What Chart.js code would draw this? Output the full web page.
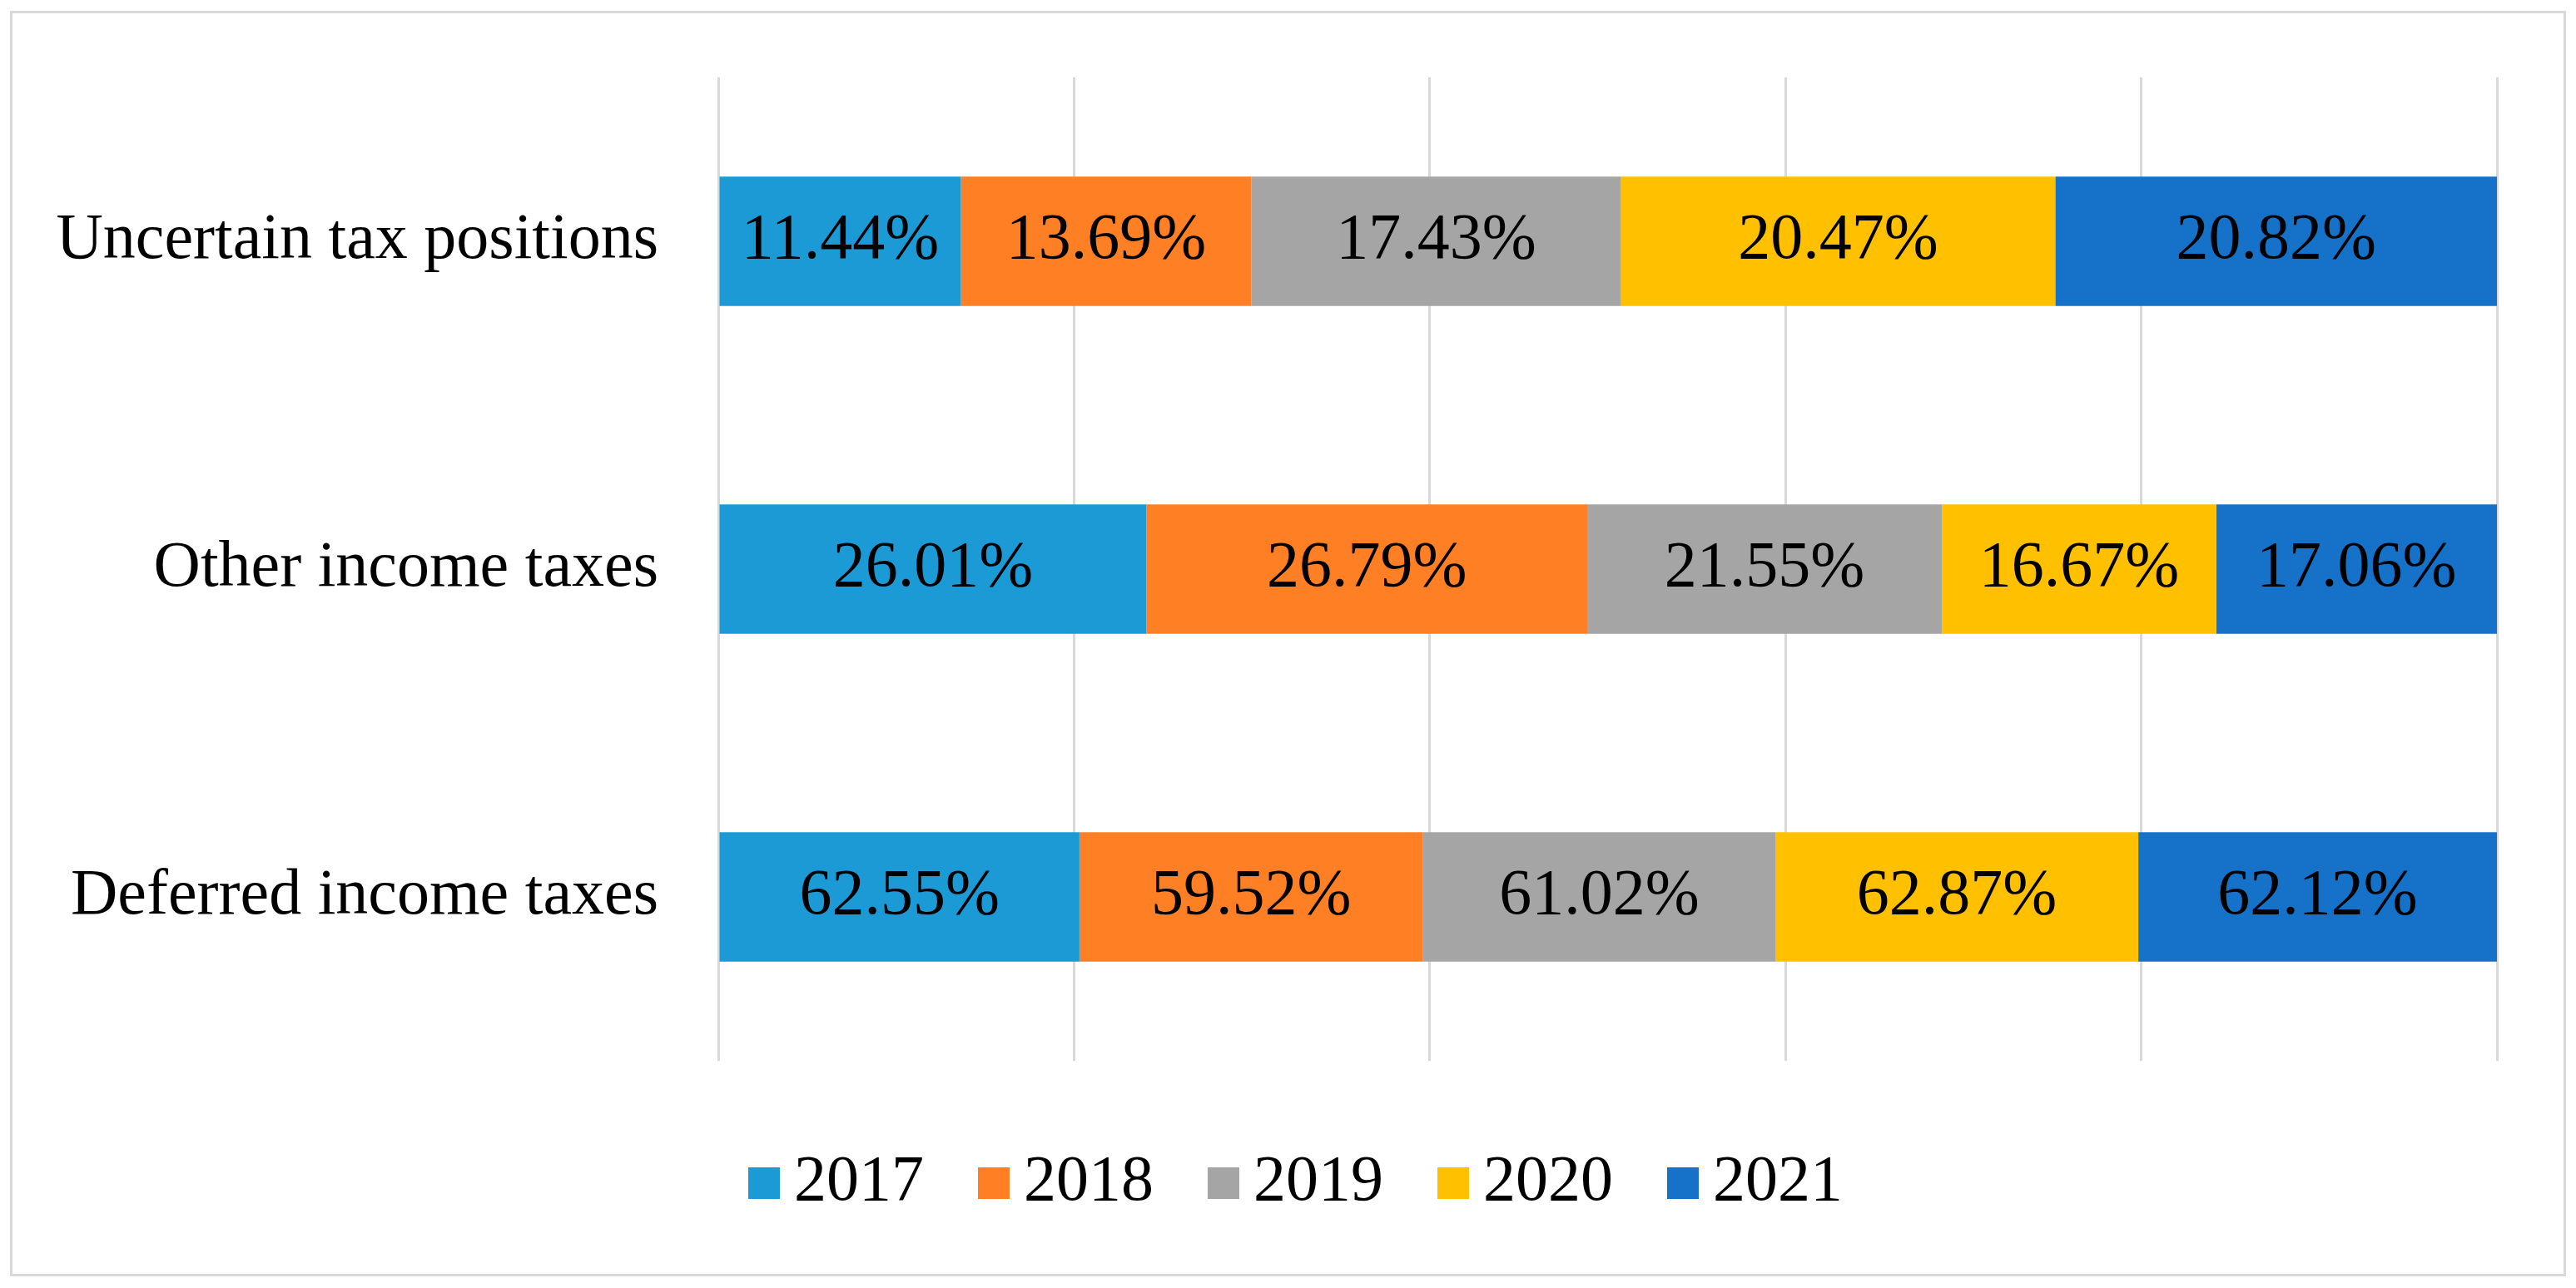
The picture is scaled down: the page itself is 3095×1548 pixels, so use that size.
<!DOCTYPE html>
<html>
<head>
<meta charset="utf-8">
<script src="https://cdn.jsdelivr.net/npm/chart.js@4.4.1/dist/chart.umd.min.js"></script>
<style>
  html, body { margin: 0; padding: 0; background: #fff; }
  #wrap { position: relative; width: 3095px; height: 1548px; }
  #frame { position: absolute; left: 12px; top: 13px; width: 3065px; height: 1515px;
           border: 3px solid #d9d9d9; pointer-events: none; }
</style>
</head>
<body>
<div id="wrap"><canvas id="chart"></canvas><div id="frame"></div></div>
<script>
// Share of each tax item by year (percent values as printed on the bars)
const categories = ['Uncertain tax positions', 'Other income taxes', 'Deferred income taxes'];
const years = ['2017', '2018', '2019', '2020', '2021'];
const v2017 = [11.44, 26.01, 62.55];
const v2018 = [13.69, 26.79, 59.52];
const v2019 = [17.43, 21.55, 61.02];
const v2020 = [20.47, 16.67, 62.87];
const v2021 = [20.82, 17.06, 62.12];
const colors = ['#1b9ad6', '#fe7f24', '#a5a5a5', '#ffc000', '#1672c9'];

const series = [v2017, v2018, v2019, v2020, v2021];
// 100% stacked: each row is scaled to its own total
const rowTotals = categories.map((_, j) => series.reduce((s, arr) => s + arr[j], 0));

const FONT = 'Liberation Serif';
const FSIZE = 78;
const LEG_PAD = 80;

// legend swatch as a small image so the gap to the text stays tight
const legendIcons = colors.map(c => {
  const cv = document.createElement('canvas');
  cv.width = 45; cv.height = 38;
  const g = cv.getContext('2d');
  g.fillStyle = c;
  g.fillRect(7, 0, 38, 38);
  return cv;
});

// draw the printed value in the middle of every segment
const segmentLabels = {
  id: 'segmentLabels',
  afterDatasetsDraw(chart) {
    const ctx = chart.ctx;
    ctx.save();
    ctx.font = FSIZE + 'px "' + FONT + '"';
    ctx.fillStyle = '#000';
    ctx.textAlign = 'center';
    ctx.textBaseline = 'middle';
    chart.data.datasets.forEach((ds, i) => {
      chart.getDatasetMeta(i).data.forEach((bar, j) => {
        const p = bar.getCenterPoint();
        ctx.fillText(series[i][j].toFixed(2) + '%', p.x, p.y);
      });
    });
    ctx.restore();
  }
};

// move the legend row to where it sits in the original
const placeLegend = {
  id: 'placeLegend',
  afterLayout(chart) {
    const lg = chart.legend;
    const h = lg.height;
    lg.left = 914 - LEG_PAD; lg.right = 3095;
    lg.top = 1422 - LEG_PAD - FSIZE / 2; lg.bottom = lg.top + h;
  }
};

Chart.defaults.font.family = FONT;
Chart.defaults.color = '#000';

new Chart(document.getElementById('chart'), {
  type: 'bar',
  data: {
    labels: categories,
    datasets: years.map((y, i) => ({
      label: y,
      data: series[i].map((v, j) => v / rowTotals[j] * 100),
      backgroundColor: colors[i],
      borderWidth: 0,
      barPercentage: 0.395,
      categoryPercentage: 1
    }))
  },
  options: {
    indexAxis: 'y',
    responsive: true,
    maintainAspectRatio: false,
    animation: false,
    layout: { padding: { left: 0, right: 95, top: 93, bottom: 0 } },
    plugins: {
      legend: {
        position: 'bottom',
        align: 'start',
        labels: {
          usePointStyle: true, pointStyleWidth: 1, padding: LEG_PAD, color: '#000',
          font: { family: FONT, size: FSIZE },
          generateLabels: (chart) => chart.data.datasets.map((ds, i) => ({
            text: ds.label, fillStyle: ds.backgroundColor, strokeStyle: ds.backgroundColor,
            lineWidth: 0, pointStyle: legendIcons[i], hidden: false, datasetIndex: i, fontColor: '#000'
          }))
        }
      },
      tooltip: { enabled: false }
    },
    scales: {
      x: {
        stacked: true, min: 0, max: 100,
        ticks: { display: false, stepSize: 20 },
        grid: { color: '#d9d9d9', lineWidth: 3, drawTicks: false },
        border: { display: false },
        afterFit(s) { s.height = 105; }
      },
      y: {
        stacked: true,
        grid: { display: false, drawTicks: false },
        border: { display: false },
        ticks: { color: '#000', padding: 72, font: { family: FONT, size: FSIZE } },
        afterFit(s) { s.width = 863; s.paddingTop = 0; s.paddingBottom = 0; }
      }
    }
  },
  plugins: [segmentLabels, placeLegend]
});
</script>
</body>
</html>
